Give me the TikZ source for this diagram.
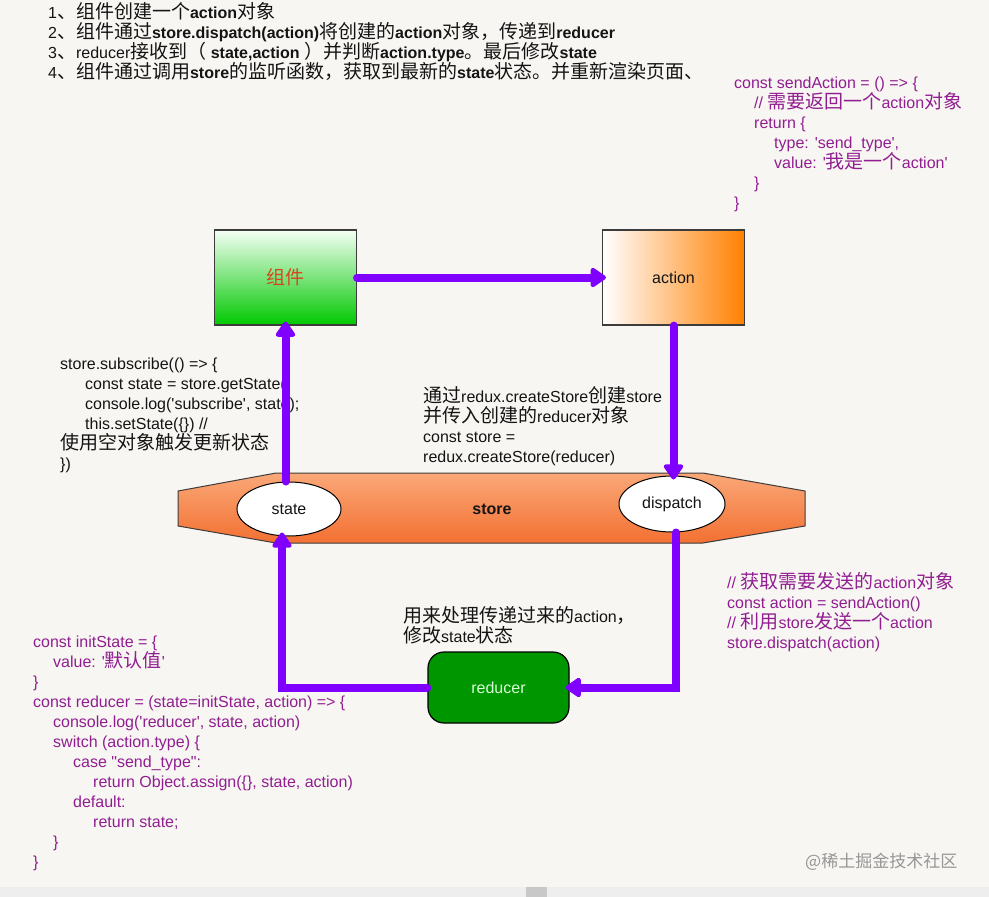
\documentclass[tikz,border=0pt]{standalone}
\usepackage{fontspec}
\setmainfont{Liberation Sans}[Ligatures=TeXOff]
\newfontfamily\cjkfont{Noto Sans CJK SC}
\usetikzlibrary{arrows.meta,shapes.geometric}

\XeTeXinterchartokenstate=1
\chardef\cjkcls=10
\newcount\cjkcnt
\def\setcjkrange#1#2{\cjkcnt=#1\relax\loop\XeTeXcharclass\cjkcnt=\cjkcls\relax\ifnum\cjkcnt<#2\relax\advance\cjkcnt by 1\relax\repeat}
\setcjkrange{"3000}{"303F}
\setcjkrange{"4E00}{"9FFF}
\setcjkrange{"FF00}{"FFEF}
\newcommand\cjkon{\begingroup\cjkfont\fontsize{19}{20}\selectfont}
\XeTeXinterchartoks 0 \cjkcls = {\cjkon}
\XeTeXinterchartoks 4095 \cjkcls = {\cjkon}
\XeTeXinterchartoks \cjkcls 0 = {\endgroup}
\XeTeXinterchartoks \cjkcls 4095 = {\endgroup}

\definecolor{bg}{RGB}{247,246,242}
\definecolor{flowc}{RGB}{128,0,255}
\definecolor{codep}{RGB}{145,30,145}
\definecolor{txt}{RGB}{20,20,20}
\definecolor{comptxt}{RGB}{215,70,30}
\definecolor{boxb}{RGB}{60,60,60}
\definecolor{grnB}{RGB}{0,200,0}
\definecolor{grnT}{RGB}{245,255,245}
\definecolor{orgR}{RGB}{255,128,0}
\definecolor{hexT}{RGB}{250,168,120}
\definecolor{hexB}{RGB}{243,112,50}
\definecolor{redg}{RGB}{0,150,0}
\definecolor{redt}{RGB}{215,255,215}
\definecolor{wmc}{RGB}{150,150,150}
\definecolor{stripc}{RGB}{238,238,238}
\definecolor{sqc}{RGB}{200,200,200}
\newcommand\fst{\rule{0pt}{17pt}}

\begin{document}
\begin{tikzpicture}[x=1pt,y=-1pt,
  flow/.style={draw=flowc,line width=8pt,line cap=round,shorten >=-4pt,
    -{Triangle[length=17pt,width=22pt,round]}},
  txtblk/.style={anchor=north west,inner sep=0pt,align=left,text=txt,
    font={\fontsize{16}{20}\selectfont\lineskiplimit=-100pt}},
  codeblk/.style={txtblk,text=codep},
  bigbox/.style={draw=boxb,line width=1.2pt,minimum width=142pt,minimum height=95pt,
    inner sep=0pt,font={\fontsize{16}{20}\selectfont}},
  ell/.style={ellipse,draw=black,line width=1pt,fill=white,inner sep=0pt,
    text=txt,font={\fontsize{16}{20}\selectfont}},
  redbox/.style={draw=black,line width=1.2pt,fill=redg,rounded corners=16pt,
    minimum width=141pt,minimum height=71pt,inner sep=0pt,text=redt,
    font={\fontsize{16}{20}\selectfont}}
]
\fill[bg] (0,0) rectangle (989,897);
\useasboundingbox (0,0) rectangle (989,897);
\fill[stripc] (0,887) rectangle (989,897);
\fill[sqc] (526,887) rectangle (547,897);

% top description
\node[txtblk] (steps) at (48,1) {\fst 1、组件创建一个\textbf{action}对象\\
2、组件通过\textbf{store.dispatch(action)}将创建的\textbf{action}对象，传递到\textbf{reducer}\\
3、reducer接收到（\textbf{ state,action }）并判断\textbf{action.type}。最后修改\textbf{state}\\
4、组件通过调用\textbf{store}的监听函数，获取到最新的\textbf{state}状态。并重新渲染页面、};

% top-right code
\node[codeblk] (sendcode) at (734,71) {\fst const sendAction = () => \{\\
\hspace*{20pt}// 需要返回一个action对象\\
\hspace*{20pt}return \{\\
\hspace*{40pt}type: 'send\_type',\\
\hspace*{40pt}value: '我是一个action'\\
\hspace*{20pt}\}\\
\}};

% subscribe code
\node[txtblk] (subcode) at (60,352) {\fst store.subscribe(() => \{\\
\hspace*{25pt}const state = store.getState()\\
\hspace*{25pt}console.log('subscribe', state);\\
\hspace*{25pt}this.setState(\{\}) //\\
使用空对象触发更新状态\\
\})};

% createStore note
\node[txtblk] (createnote) at (423,385) {\fst 通过redux.createStore创建store\\
并传入创建的reducer对象\\
const store =\\
redux.createStore(reducer)};

% reducer note
\node[txtblk] (rednote) at (403,605) {\fst 用来处理传递过来的action，\\
修改state状态};

% dispatch code
\node[codeblk] (dispcode) at (727,571) {\fst // 获取需要发送的action对象\\
const action = sendAction()\\
// 利用store发送一个action\\
store.dispatch(action)};

% reducer code
\node[codeblk] (redcode) at (33,630) {\fst const initState = \{\\
\hspace*{20pt}value: '默认值'\\
\}\\
const reducer = (state=initState, action) => \{\\
\hspace*{20pt}console.log('reducer', state, action)\\
\hspace*{20pt}switch (action.type) \{\\
\hspace*{40pt}case "send\_type":\\
\hspace*{60pt}return Object.assign(\{\}, state, action)\\
\hspace*{40pt}default:\\
\hspace*{60pt}return state;\\
\hspace*{20pt}\}\\
\}};

% boxes
\node[bigbox,top color=grnT,bottom color=grnB,text=comptxt] (comp) at (285.5,277.5) {组件};
\node[bigbox,left color=white,right color=orgR,text=txt] (action) at (673.5,277.5) {action};

% store hexagon
\draw[draw=boxb,line width=1pt,top color=hexT,bottom color=hexB]
  (178,491) -- (276,473) -- (703,473) -- (805,491) -- (805,526) -- (703,543) -- (276,543) -- (178,526) -- cycle;
\node[text=txt,font={\bfseries\fontsize{16}{20}\selectfont}] (store) at (492,509) {store};
\node[ell,minimum width=104pt,minimum height=54pt] (state) at (289,509) {state};
\node[ell,minimum width=106pt,minimum height=56pt] (disp) at (672,504) {dispatch};

% reducer
\node[redbox] (red) at (498.5,687.5) {reducer};

% watermark
\node[anchor=west,inner sep=0pt,text=wmc,font={\XeTeXinterchartokenstate=0 \cjkfont\fontsize{17}{17}\selectfont}] (wmk) at (805,862) {@稀土掘金技术社区};

% flows
\draw[flow] (comp.east) -- (action.west);
\draw[flow] (action.south) -- (action.south |- disp.north);
\draw[flow] (state.north -| comp.south) -- (comp.south);
\draw[flow] ([xshift=4pt]disp.south) |- (red.east);
\draw[flow] (red.west) -| ([xshift=-7pt]state.south);
\end{tikzpicture}
\end{document}
